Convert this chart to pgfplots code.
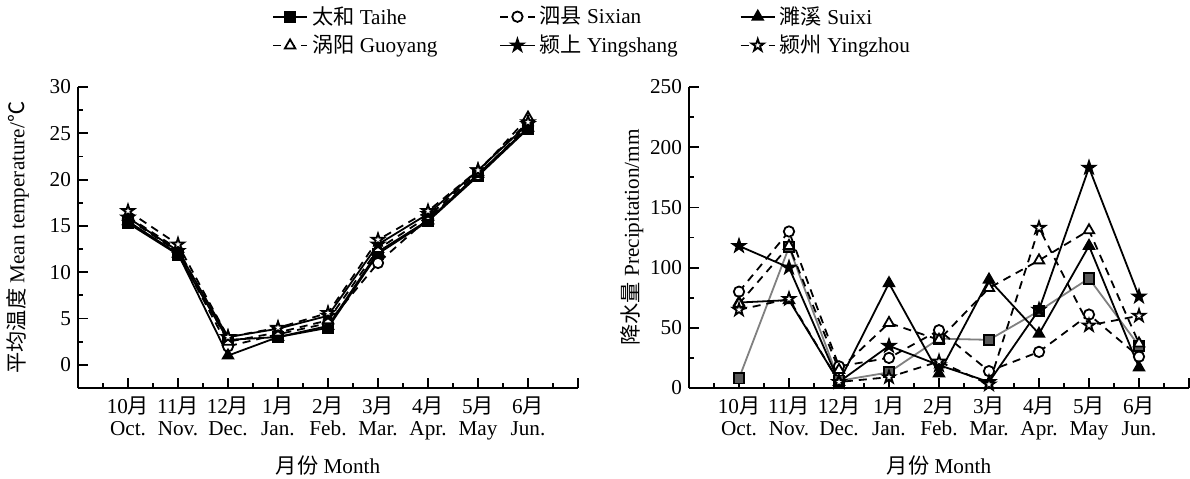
\documentclass[border=0pt]{standalone}
\usepackage{fontspec}
\setmainfont{Liberation Serif}
\newfontfamily\cjk{Noto Sans CJK SC}
\usepackage{pgfplots}
\usepackage{pgfplotstable}
\pgfplotsset{compat=1.18}

% filled/open five-pointed star
\pgfdeclareplotmark{fstar}{%
  \pgfpathmoveto{\pgfqpoint{0pt}{\pgfplotmarksize}}%
  \pgfpathlineto{\pgfqpoint{-0.225\pgfplotmarksize}{0.309\pgfplotmarksize}}%
  \pgfpathlineto{\pgfqpoint{-0.951\pgfplotmarksize}{0.309\pgfplotmarksize}}%
  \pgfpathlineto{\pgfqpoint{-0.363\pgfplotmarksize}{-0.118\pgfplotmarksize}}%
  \pgfpathlineto{\pgfqpoint{-0.588\pgfplotmarksize}{-0.809\pgfplotmarksize}}%
  \pgfpathlineto{\pgfqpoint{0pt}{-0.382\pgfplotmarksize}}%
  \pgfpathlineto{\pgfqpoint{0.588\pgfplotmarksize}{-0.809\pgfplotmarksize}}%
  \pgfpathlineto{\pgfqpoint{0.363\pgfplotmarksize}{-0.118\pgfplotmarksize}}%
  \pgfpathlineto{\pgfqpoint{0.951\pgfplotmarksize}{0.309\pgfplotmarksize}}%
  \pgfpathlineto{\pgfqpoint{0.225\pgfplotmarksize}{0.309\pgfplotmarksize}}%
  \pgfpathclose
  \pgfusepathqfillstroke
}

\pgfplotstableread{
m taihe sixian suixi guoyang yingshang yingzhou
1 15.3 15.8 15.5 16.0 15.9 16.6
2 11.9 12.2 12.0 12.5 12.3 13.0
3 2.7 2.0 1.0 2.5 3.0 3.0
4 3.0 3.3 3.0 3.5 3.9 4.0
5 4.0 4.5 4.2 4.8 5.3 5.6
6 12.0 11.0 12.2 12.5 13.0 13.5
7 15.5 15.8 15.6 16.0 16.3 16.6
8 20.4 20.5 20.6 20.8 21.0 21.0
9 25.5 25.8 25.6 26.7 26.0 26.2
}\temp

\pgfplotstableread{
m taihe sixian suixi guoyang yingshang yingzhou
1 8 80 71 70 118 65
2 117 130 73 118 100 74
3 6 18 5 15 5 5
4 13 25 87 54 35 9
5 41 48 12 40 19 22
6 40 14 90 83 5 3
7 64 30 45 106 65 133
8 91 61 118 131 183 52
9 35 26 17 37 76 60
}\prec

\pgfplotsset{
  base/.style={
    scale only axis, width=250pt, height=150.5pt,
    font=\fontsize{10.6}{11}\selectfont,
    /pgf/number format/assume math mode=true,
    xmin=0, xmax=10, xtick={0,...,10}, minor x tick num=1,
    xticklabels={,{10{\cjk 月}\\Oct.},{11{\cjk 月}\\Nov.},{12{\cjk 月}\\Dec.},
      {1{\cjk 月}\\Jan.},{2{\cjk 月}\\Feb.},{3{\cjk 月}\\Mar.},{4{\cjk 月}\\Apr.},
      {5{\cjk 月}\\May},{6{\cjk 月}\\Jun.},},
    xticklabel style={align=center, yshift=-1pt},
    axis x line=bottom, axis y line=left,
    axis line style={-, line width=1.2pt},
    tick align=inside, major tick length=5pt, minor tick length=2.5pt,
    every tick/.style={black, line width=0.9pt},
    minor y tick num=1,
    xlabel={{\cjk 月份} Month},
    xlabel style={yshift=-1pt},
  },
  pl/.style={black, line width=0.9pt, mark size=2.6pt},
  sd/.style={pl, dash pattern=on 4pt off 3pt},
  mo/.style={mark options={solid, fill=white}},
  mf/.style={mark options={solid, fill=black}},
}

\begin{document}
\begin{tikzpicture}
\begin{axis}[base,
  ymin=-2.5, ymax=30, ytick={0,5,...,30},
  ylabel={{\cjk 平均温度} Mean temperature/{\cjk ℃}},
  ylabel style={yshift=3.5pt},
  legend columns=3,
  legend cell align=left,
  legend style={at={(axis description cs:1.03,1.186)}, anchor=center, draw=none,
    font=\fontsize{10.6}{11}\selectfont,
    /tikz/every even column/.append style={column sep=29pt}},
]
\addplot[pl, mark=square*, mf] table[x=m, y=taihe] {\temp};
\addlegendentry{{\cjk 太和} Taihe}
\addplot[sd, mark=*, mo] table[x=m, y=sixian] {\temp};
\addlegendentry{{\cjk 泗县} Sixian}
\addplot[pl, mark=triangle*, mf, mark size=3pt] table[x=m, y=suixi] {\temp};
\addlegendentry{{\cjk 濉溪} Suixi}
\addplot[sd, mark=triangle*, mo, mark size=3pt] table[x=m, y=guoyang] {\temp};
\addlegendentry{{\cjk 涡阳} Guoyang}
\addplot[pl, mark=fstar, mf, mark size=3.2pt] table[x=m, y=yingshang] {\temp};
\addlegendentry{{\cjk 颍上} Yingshang}
\addplot[sd, mark=fstar, mo, mark size=3.2pt] table[x=m, y=yingzhou] {\temp};
\addlegendentry{{\cjk 颍州} Yingzhou}
\end{axis}

\begin{axis}[base, at={(305.5pt,0pt)},
  ymin=0, ymax=250, ytick={0,50,...,250},
  ylabel={{\cjk 降水量} Precipitation/mm},
  ylabel style={yshift=-3.5pt},
]
\addplot[pl, gray, mark=square*, mark options={solid, draw=black, fill=black!65}] table[x=m, y=taihe] {\prec};
\addplot[sd, mark=*, mo] table[x=m, y=sixian] {\prec};
\addplot[pl, mark=triangle*, mf, mark size=3pt] table[x=m, y=suixi] {\prec};
\addplot[sd, mark=triangle*, mo, mark size=3pt] table[x=m, y=guoyang] {\prec};
\addplot[pl, mark=fstar, mf, mark size=3.2pt] table[x=m, y=yingshang] {\prec};
\addplot[sd, mark=fstar, mo, mark size=3.2pt] table[x=m, y=yingzhou] {\prec};
\end{axis}

\pgfresetboundingbox
\path[use as bounding box] (-39pt,-45pt) rectangle (556pt,194pt);
\end{tikzpicture}
\end{document}
